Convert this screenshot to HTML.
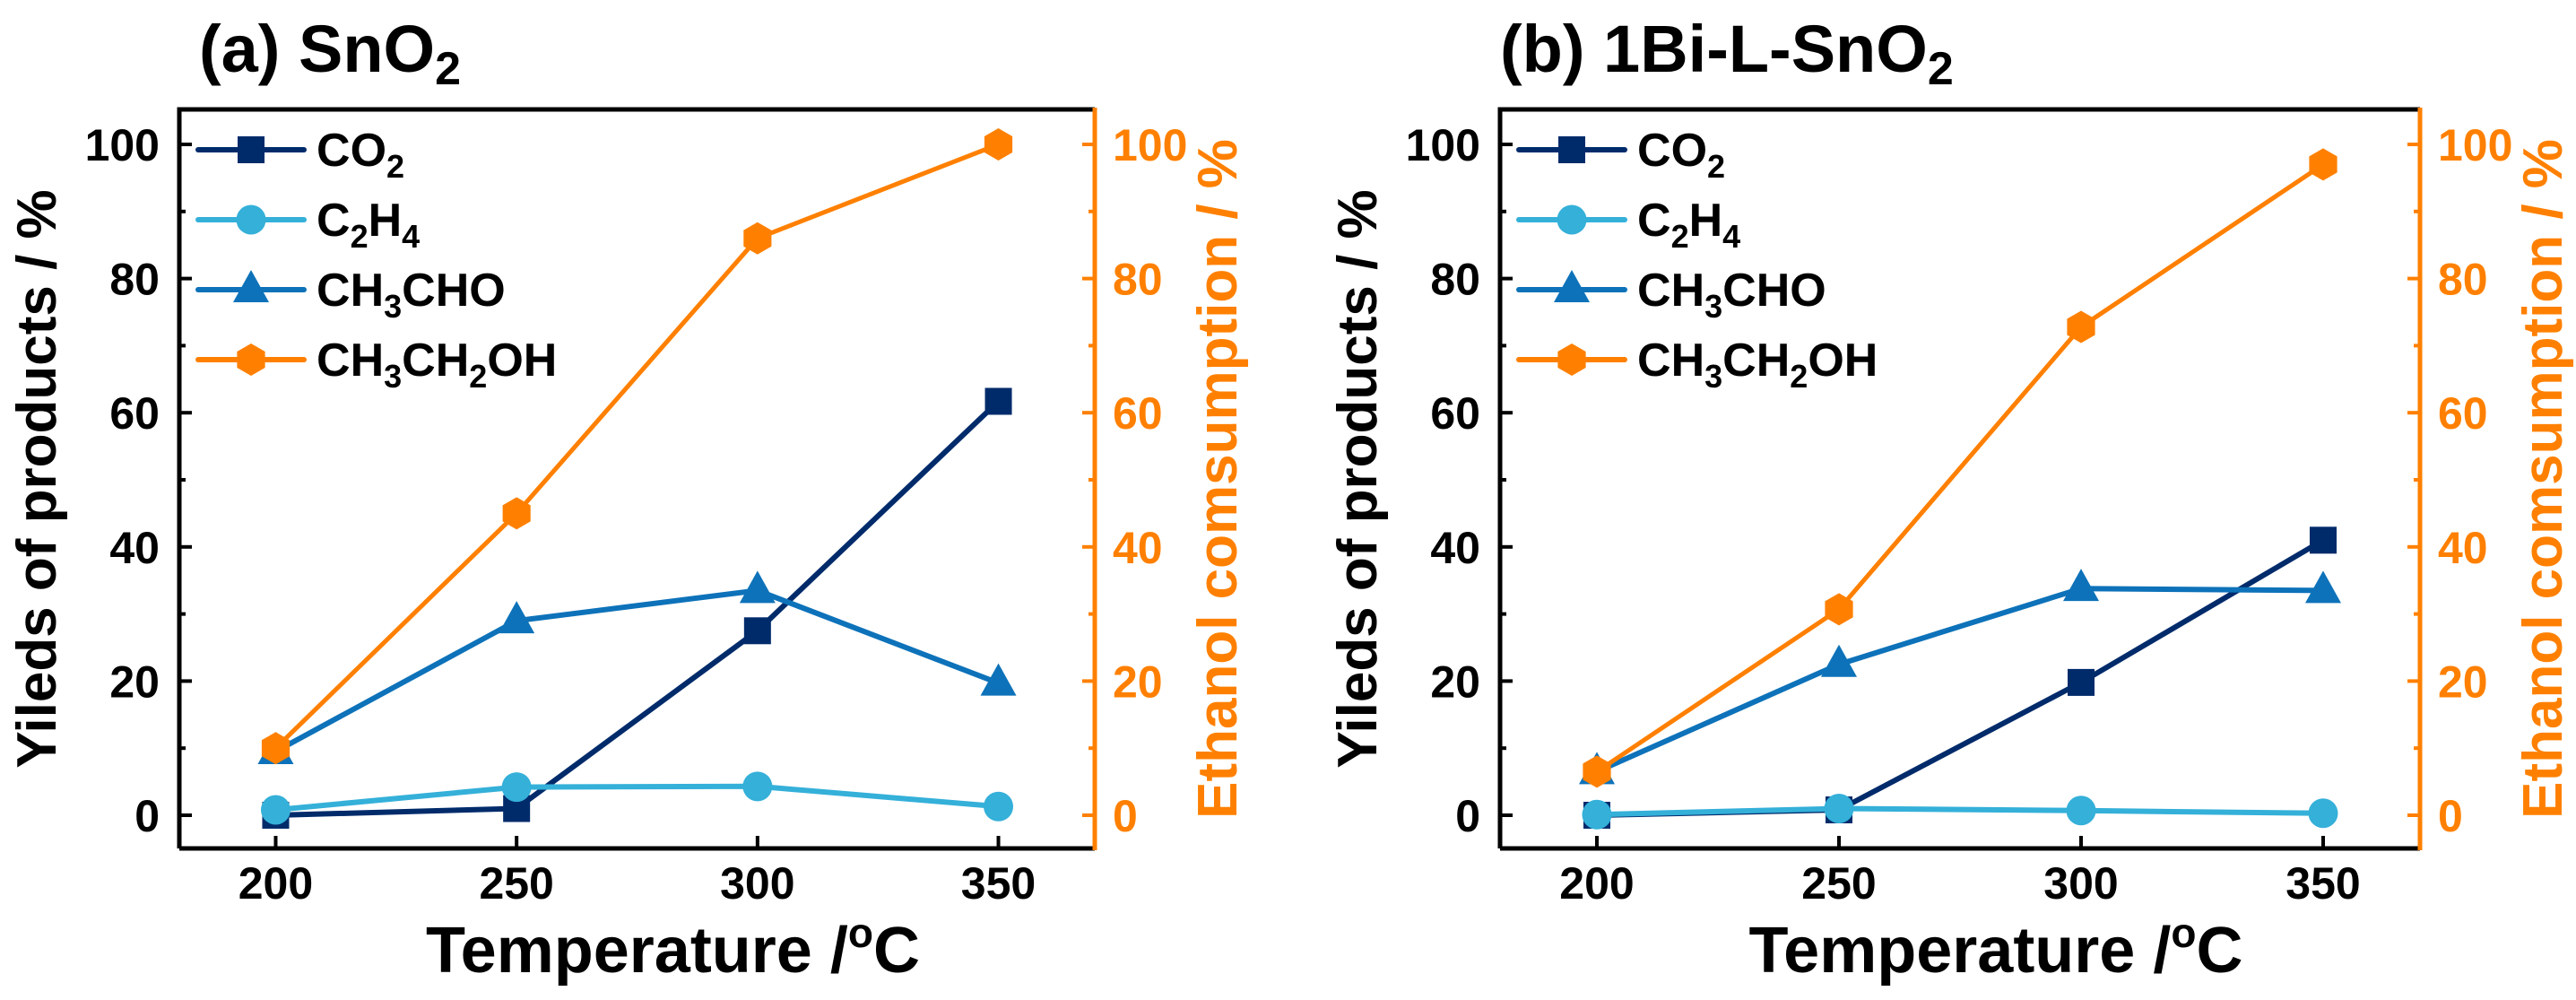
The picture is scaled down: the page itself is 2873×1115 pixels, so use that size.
<!DOCTYPE html>
<html><head><meta charset="utf-8"><style>
html,body{margin:0;padding:0;background:#fff;}
svg{display:block;font-family:"Liberation Sans",Arial,sans-serif;font-weight:bold;}
</style></head><body>
<svg id="fig" width="2873" height="1115" viewBox="0 0 2873 1115" xmlns="http://www.w3.org/2000/svg"></svg>
<script>
const temps = [200, 250, 300, 350];
const xTicks = [200, 250, 300, 350];
const yTicks = [0, 20, 40, 60, 80, 100];
const seriesNames = ["CO2", "C2H4", "CH3CHO", "CH3CH2OH"];
const aCO2 = [0, 1, 27.5, 61.7];
const aC2H4 = [0.8, 4.2, 4.3, 1.3];
const aCH3CHO = [9.5, 29, 33.5, 19.7];
const aEthanol = [10, 45, 86, 100];
const bCO2 = [0, 0.8, 19.8, 41];
const bC2H4 = [0.1, 1, 0.7, 0.3];
const bCH3CHO = [6.5, 22.5, 33.8, 33.5];
const bEthanol = [6.5, 30.7, 72.8, 97];

const NS = "http://www.w3.org/2000/svg";
const svg = document.getElementById("fig");
const COL = {CO2:"#002b6b", C2H4:"#34b0d9", CH3CHO:"#0d72b9", CH3CH2OH:"#ff8000"};

function el(tag, attrs, parent){
  const e = document.createElementNS(NS, tag);
  for (const k in attrs) e.setAttribute(k, attrs[k]);
  (parent||svg).appendChild(e);
  return e;
}

function marker(g, type, cx, cy, color){
  let m;
  if (type==="CO2"){ m = el("rect",{x:cx-15,y:cy-15,width:30,height:30,fill:color},g); }
  else if (type==="C2H4"){ m = el("circle",{cx:cx,cy:cy,r:16.5,fill:color},g); }
  else if (type==="CH3CHO"){ m = el("polygon",{points:`${cx},${cy-22} ${cx+20},${cy+14} ${cx-20},${cy+14}`,fill:color},g); }
  else { let p=[]; for(let i=0;i<6;i++){const a=Math.PI/3*i-Math.PI/2;p.push((cx+18*Math.cos(a)).toFixed(1)+","+(cy+18*Math.sin(a)).toFixed(1));} m = el("polygon",{points:p.join(" "),fill:color},g); }
  return m;
}

function formula(t, name){
  const parts = name.match(/[A-Z][a-z]?|\d+/g);
  let sub = false;
  parts.forEach(p=>{
    const ts = el("tspan",{},t);
    if (/^\d+$/.test(p)){ ts.setAttribute("font-size","36"); ts.setAttribute("dy", sub?"0":"13"); sub=true; }
    else { ts.setAttribute("dy", sub?"-13":"0"); sub=false; }
    ts.textContent = p;
  });
}

function panel(cfg){
  const L=cfg.left, R=cfg.right, T=122, B=946;
  const xMin=180, xMax=370;
  const y0=909, y100=161;
  const X = v => L + (v - xMin) / (xMax - xMin) * (R - L);
  const Y = v => y0 + (v) * (y100 - y0) / 100;
  const g = el("g",{});
  
  

  const tt = el("text",{x:cfg.titleX,y:80,"font-size":"74",fill:"#000"},g);
  
  
  const s1 = el("tspan",{},tt); s1.textContent = cfg.title;
  const s2 = el("tspan",{"font-size":"52",dy:"14"},tt); s2.textContent = "2";

  const fr = el("path",{d:`M${L},${B} L${L},${T} L${R},${T}`,fill:"none",stroke:"#000","stroke-width":5},g);
   
  const xa = el("line",{x1:L,y1:B,x2:R,y2:B,stroke:"#000","stroke-width":5},g);
   
  const ra = el("line",{x1:R,y1:T-2,x2:R,y2:B+2,stroke:COL.CH3CH2OH,"stroke-width":5},g);
   

  xTicks.forEach(v=>{
    el("line",{x1:X(v),y1:B,x2:X(v),y2:B-14,stroke:"#000","stroke-width":4},g);
    const t = el("text",{x:X(v),y:1002,"font-size":"50","text-anchor":"middle",fill:"#000"},g);
     
    t.textContent = v;
  });
  for (let v=0; v<=100; v+=10){
    const major = v%20===0;
    el("line",{x1:L,y1:Y(v),x2:L+(major?14:7),y2:Y(v),stroke:"#000","stroke-width":4},g);
    el("line",{x1:R,y1:Y(v),x2:R-(major?14:7),y2:Y(v),stroke:COL.CH3CH2OH,"stroke-width":4},g);
  }
  yTicks.forEach(v=>{
    const t = el("text",{x:L-22,y:Y(v)+18,"font-size":"50","text-anchor":"end",fill:"#000"},g);
     
    t.textContent = v;
    const t2 = el("text",{x:R+20,y:Y(v)+18,"font-size":"50","text-anchor":"start",fill:COL.CH3CH2OH},g);
     
    t2.textContent = v;
  });

  const xt = el("text",{x:(L+R)/2+40,y:1084,"font-size":"72","text-anchor":"middle",fill:"#000"},g);
   
  const xs1 = el("tspan",{},xt); xs1.textContent = "Temperature /";
  const xs2 = el("tspan",{"font-size":"46",dy:"-28"},xt); xs2.textContent = "o";
  const xs3 = el("tspan",{dy:"28"},xt); xs3.textContent = "C";

  const cy = (T+B)/2;
  const yt = el("text",{x:0,y:0,"font-size":"62","text-anchor":"middle",fill:"#000",transform:`translate(${L-138},${cy}) rotate(-90)`},g);
   
  yt.textContent = "Yileds of products / %";
  const yt2 = el("text",{x:0,y:0,"font-size":"62","text-anchor":"middle",fill:COL.CH3CH2OH,transform:`translate(${R+158},${cy}) rotate(-90)`},g);
   
  yt2.textContent = "Ethanol comsumption / %";

  const data = cfg.data;
  seriesNames.forEach((nm,si)=>{
    const vals = data[si];
    const sg = el("g",{},g);
    
    
    const pts = temps.map((t,i)=>X(t).toFixed(1)+","+Y(vals[i]).toFixed(1)).join(" ");
    const pl = el("polyline",{points:pts,fill:"none",stroke:COL[nm],"stroke-width":nm==="CH3CH2OH"?5:6,"stroke-linejoin":"round"},sg);
    
    
    temps.forEach((t,i)=>{
      const m = marker(sg, nm, X(t), Y(vals[i]), COL[nm]);
      
      
    });
  });

  const lg = el("g",{},g);
  
  
  seriesNames.forEach((nm,i)=>{
    const ly = 167 + i*78;
    const eg = el("g",{},lg);
    
    
    el("line",{x1:L+21,y1:ly,x2:L+139,y2:ly,stroke:COL[nm],"stroke-width":6,"stroke-linecap":"round"},eg);
    marker(eg, nm, L+80, ly, COL[nm]);
    const t = el("text",{x:L+153,y:ly+18,"font-size":"52",fill:"#000"},eg);
    formula(t, nm);
  });
}

panel({name:"panel-a-sno2", left:200, right:1221, titleX:222, title:"(a) SnO", data:[aCO2,aC2H4,aCH3CHO,aEthanol]});
panel({name:"panel-b-1bi-l-sno2", left:1673, right:2699, titleX:1673, title:"(b) 1Bi-L-SnO", data:[bCO2,bC2H4,bCH3CHO,bEthanol]});
</script>
</body></html>
